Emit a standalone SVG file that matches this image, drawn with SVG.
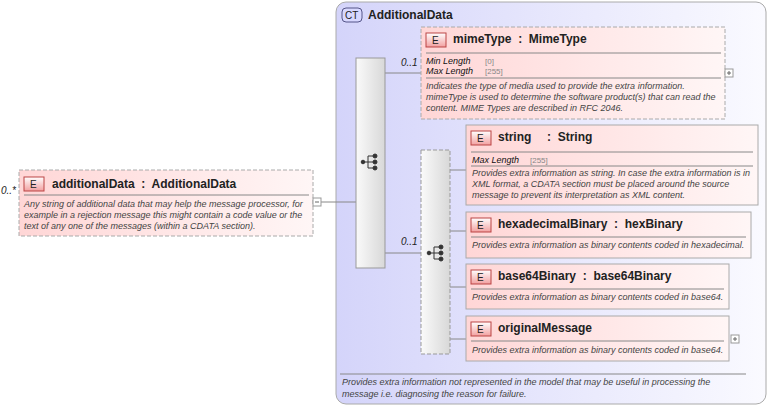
<svg xmlns="http://www.w3.org/2000/svg" width="770" height="407" viewBox="0 0 770 407">
<style>
text{font-family:"Liberation Sans",Arial,sans-serif;fill:#222;white-space:pre}
.t{font-size:12px;font-weight:bold}
.d{font-size:9px;font-style:italic;fill:#444}
.f{font-size:9px;font-style:italic;fill:#111}
.v{font-size:8px;fill:#888}
.c{font-size:10px;font-style:italic}
.el{fill:url(#eg);stroke:#aaa;stroke-width:1}
.dash{stroke-dasharray:4,2}
.sep{stroke:#888;stroke-width:1}
.bad{fill:url(#bg);stroke:#b44;stroke-width:1}
.ln{stroke:#888;stroke-width:1;fill:none}
.comp{fill:url(#cg);stroke:#999}
</style>
<defs>
<linearGradient id="eg" x1="0" y1="0" x2="1" y2="0"><stop offset="0" stop-color="#ffd6d6"/><stop offset="1" stop-color="#fff6f6"/></linearGradient>
<linearGradient id="bg" x1="0" y1="0" x2="0" y2="1"><stop offset="0" stop-color="#fff"/><stop offset="1" stop-color="#f2a0a0"/></linearGradient>
<linearGradient id="ct" x1="0" y1="0" x2="1" y2="0"><stop offset="0" stop-color="#d4d4fa"/><stop offset="1" stop-color="#fafaff"/></linearGradient>
<linearGradient id="cg" x1="0" y1="0" x2="1" y2="0"><stop offset="0" stop-color="#fafafa"/><stop offset="1" stop-color="#d8d8d8"/></linearGradient>
</defs>
<g id="ct-AdditionalData">
<rect x="336" y="2" width="430" height="402" rx="10" fill="url(#ct)" stroke="#aaa"/>
<rect x="342" y="8" width="20" height="14" rx="4" fill="#d8d8ff" stroke="#558"/>
<text x="345" y="19" style="font-size:10px">CT</text>
<text x="368" y="19" class="t">AdditionalData</text>
<line x1="340" y1="374" x2="746" y2="374" class="sep"/>
<text x="342" y="385" class="d">Provides extra information not represented in the model that may be useful in processing the</text>
<text x="342" y="397" class="d">message i.e. diagnosing the reason for failure.</text>
</g>
<g id="connectors">
<path class="ln" d="M321 202H356"/>
<path class="ln" d="M385 73H421"/>
<path class="ln" d="M385 253H421"/>
<path class="ln" d="M450 170H466M450 231H466M450 287H466M450 339H466"/>
<text x="1" y="194" class="c">0..*</text>
<text x="401" y="66" class="c">0..1</text>
<text x="401" y="245" class="c">0..1</text>
</g>
<g id="additionalData">
<rect x="19" y="170" width="294" height="66" class="el dash"/>
<rect x="24" y="177" width="20" height="14" class="bad"/>
<text x="30" y="188" style="font-size:10px">E</text>
<text x="52" y="188" class="t">additionalData  :  AdditionalData</text>
<line x1="24" y1="195" x2="309" y2="195" class="sep"/>
<text x="24" y="207" class="d">Any string of additional data that may help the message processor, for</text>
<text x="24" y="218" class="d">example in a rejection message this might contain a code value or the</text>
<text x="24" y="229" class="d">text of any one of the messages (within a CDATA section).</text>
<rect x="313" y="198" width="8" height="8" fill="#fff" stroke="#999"/>
<path d="M315 202H319" stroke="#666"/>
</g>
<g id="sequence">
<rect x="356" y="58" width="29" height="210" class="comp"/>
<g fill="#333" stroke="#333"><path d="M363 162H368M368 156V168M368 156H374M368 162H374M368 168H374" fill="none"/>
<circle cx="363" cy="162" r="1.8"/><circle cx="375" cy="156" r="2"/><circle cx="375" cy="162" r="2"/><circle cx="375" cy="168" r="2"/></g>
</g>
<g id="choice">
<rect x="421" y="150" width="29" height="204" class="comp dash"/>
<g fill="#333" stroke="#333"><path d="M429 253H434M434 247V259M434 247H440M434 253H440M434 259H440" fill="none"/>
<circle cx="429" cy="253" r="1.8"/><circle cx="441" cy="247" r="2"/><circle cx="441" cy="253" r="2"/><circle cx="441" cy="259" r="2"/></g>
</g>
<g id="mimeType">
<rect x="421" y="27" width="304" height="92" class="el dash"/>
<rect x="426" y="33" width="20" height="14" class="bad"/>
<text x="432" y="44" style="font-size:10px">E</text>
<text x="453" y="43" class="t">mimeType  :  MimeType</text>
<line x1="426" y1="53" x2="721" y2="53" class="sep"/>
<text x="426" y="64" class="f">Min Length</text><text x="485" y="64" class="v">[0]</text>
<text x="426" y="74" class="f">Max Length</text><text x="485" y="74" class="v">[255]</text>
<line x1="426" y1="78" x2="721" y2="78" class="sep"/>
<text x="426" y="89" class="d">Indicates the type of media used to provide the extra information.</text>
<text x="426" y="100" class="d">mimeType is used to determine the software product(s) that can read the</text>
<text x="426" y="111" class="d">content. MIME Types are described in RFC 2046.</text>
<rect x="725" y="69" width="8" height="8" fill="#fff" stroke="#999"/>
<path d="M727 73H731M729 71V75" stroke="#666"/>
</g>
<g id="string">
<rect x="466" y="125" width="292" height="80" class="el"/>
<rect x="471" y="131" width="20" height="14" class="bad"/>
<text x="477" y="142" style="font-size:10px">E</text>
<text x="498" y="141" class="t">string</text><text x="547" y="141" class="t">:  String</text>
<line x1="471" y1="152" x2="753" y2="152" class="sep"/>
<text x="472" y="163" class="f">Max Length</text><text x="530" y="163" class="v">[255]</text>
<line x1="471" y1="166" x2="753" y2="166" class="sep"/>
<text x="472" y="176" class="d">Provides extra information as string. In case the extra information is in</text>
<text x="472" y="187" class="d">XML format, a CDATA section must be placed around the source</text>
<text x="472" y="198" class="d">message to prevent its interpretation as XML content.</text>
</g>
<g id="hexadecimalBinary">
<rect x="466" y="212" width="285" height="46" class="el"/>
<rect x="471" y="218" width="20" height="14" class="bad"/>
<text x="477" y="229" style="font-size:10px">E</text>
<text x="498" y="228" class="t">hexadecimalBinary  :  hexBinary</text>
<line x1="471" y1="237" x2="746" y2="237" class="sep"/>
<text x="472" y="248" class="d">Provides extra information as binary contents coded in hexadecimal.</text>
</g>
<g id="base64Binary">
<rect x="466" y="264" width="263" height="45" class="el"/>
<rect x="471" y="270" width="20" height="14" class="bad"/>
<text x="477" y="281" style="font-size:10px">E</text>
<text x="498" y="280" class="t">base64Binary  :  base64Binary</text>
<line x1="471" y1="289" x2="724" y2="289" class="sep"/>
<text x="472" y="300" class="d">Provides extra information as binary contents coded in base64.</text>
</g>
<g id="originalMessage">
<rect x="466" y="316" width="263" height="45" class="el"/>
<rect x="471" y="322" width="20" height="14" class="bad"/>
<text x="477" y="333" style="font-size:10px">E</text>
<text x="498" y="332" class="t">originalMessage</text>
<line x1="471" y1="341" x2="724" y2="341" class="sep"/>
<text x="472" y="353" class="d">Provides extra information as binary contents coded in base64.</text>
<rect x="731" y="335" width="8" height="8" fill="#fff" stroke="#999"/>
<path d="M733 339H737M735 337V341" stroke="#666"/>
</g>
</svg>
